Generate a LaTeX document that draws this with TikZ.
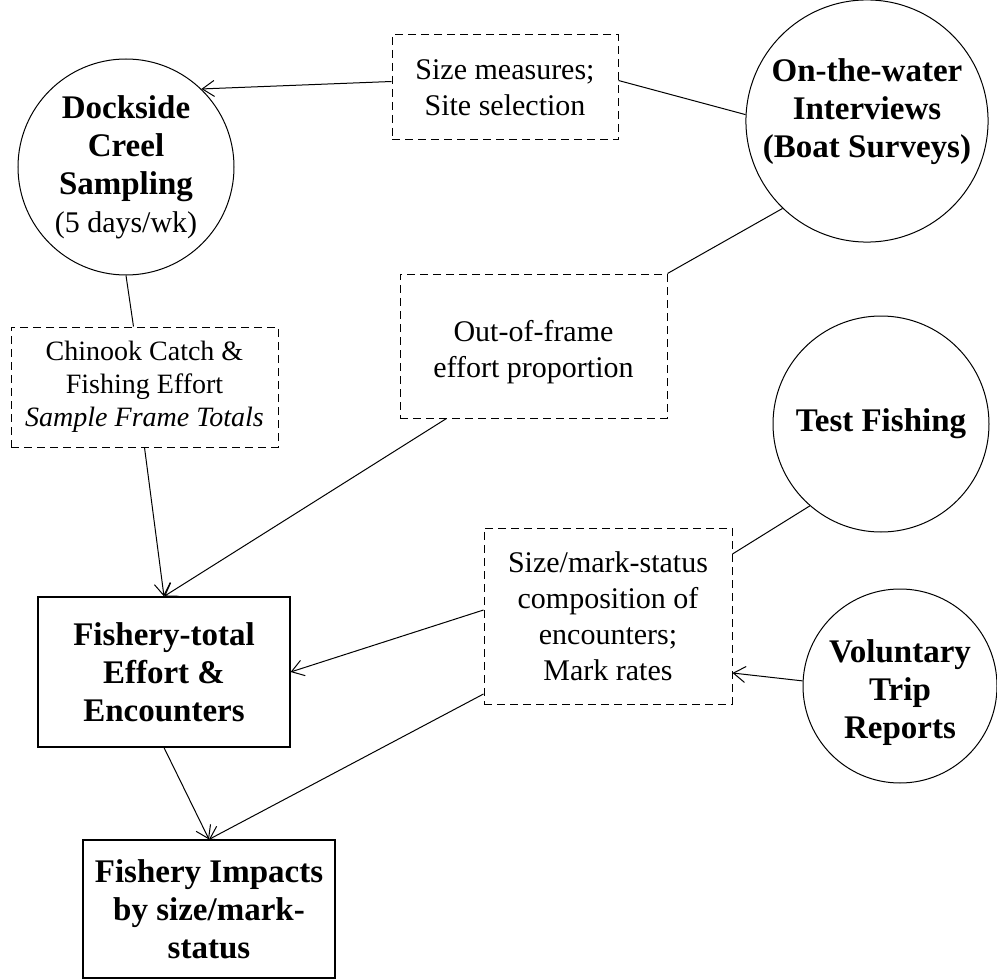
\documentclass[tikz,border=0pt]{standalone}
\usepackage{fontspec}
\setmainfont{Liberation Serif}
\usetikzlibrary{arrows.meta}
\begin{document}
\begin{tikzpicture}[x=1pt,y=-1pt,
  every node/.style={align=center, inner sep=0pt},
  reg/.style={font=\fontsize{30}{36}\selectfont},
  small/.style={font=\fontsize{28}{33}\selectfont},
  bld/.style={font=\fontsize{33}{38}\selectfont\bfseries},
  src/.style={circle, draw, line width=1pt, minimum size=#1},
  dbox/.style={draw, dash pattern=on 8pt off 5pt, line width=1pt},
  sbox/.style={draw, line width=1.2pt},
  conn/.style={line width=1pt},
  arr/.style={conn, -{Straight Barb[length=12pt,width=16pt]}},
]
\useasboundingbox (0,0) rectangle (997,979);

% sources
\node[src=216, bld] (dock) at (126,167)
  {Dockside\\Creel\\Sampling\\{\normalfont\fontsize{30}{38}\selectfont (5 days/wk)}};
\node[src=236, bld] (water) at (867,121)
  {On-the-water\\Interviews\\(Boat Surveys)\\[-13pt]\mbox{}};
\node[src=216, bld] (test) at (881,424) {Test Fishing};
\node[src=194, bld] (vol) at (900,686)
  {\mbox{}\\[-1pt]Voluntary\\Trip\\Reports};

% dashed data boxes
\node[dbox, reg, minimum width=226, minimum height=105] (size) at (505,87.5)
  {Size measures;\\Site selection};
\node[dbox, reg, minimum width=267, minimum height=144] (oof) at (533.5,346)
  {\mbox{}\\[-3pt]Out-of-frame\\effort proportion};
\node[dbox, small, minimum width=267, minimum height=120] (chin) at (144.5,387)
  {Chinook Catch \&\\Fishing Effort\\\textit{Sample Frame Totals}};
\node[dbox, reg, minimum width=248, minimum height=176] (sm) at (608,616)
  {Size/mark-status\\composition of\\encounters;\\Mark rates};

% result boxes
\node[sbox, bld, minimum width=252, minimum height=150] (ft) at (164,672)
  {Fishery-total\\Effort \&\\Encounters};
\node[sbox, bld, minimum width=252, minimum height=138] (fi) at (209,909)
  {Fishery Impacts\\by size/mark-\\status};

% connectors
\draw[arr] ([yshift=6pt]size.west) -- (dock.46);
\draw[conn] ([yshift=7pt]size.east) -- (water.177);
\draw[conn] (oof.north east) -- (water.226);
\draw[conn] (dock.south) -- ([xshift=-11pt]chin.north);
\draw[arr] (chin.south) -- (ft.north);
\draw[arr] ([xshift=-87pt]oof.south) -- (ft.north);
\draw[conn] (test.229) -- ([yshift=62pt]sm.east);
\draw[arr] (vol.177) -- ([yshift=-57pt]sm.east);
\draw[arr] ([yshift=6pt]sm.west) -- (ft.east);
\draw[arr] ([yshift=-78pt]sm.west) -- (fi.north);
\draw[arr] (ft.south) -- (fi.north);
\end{tikzpicture}
\end{document}
